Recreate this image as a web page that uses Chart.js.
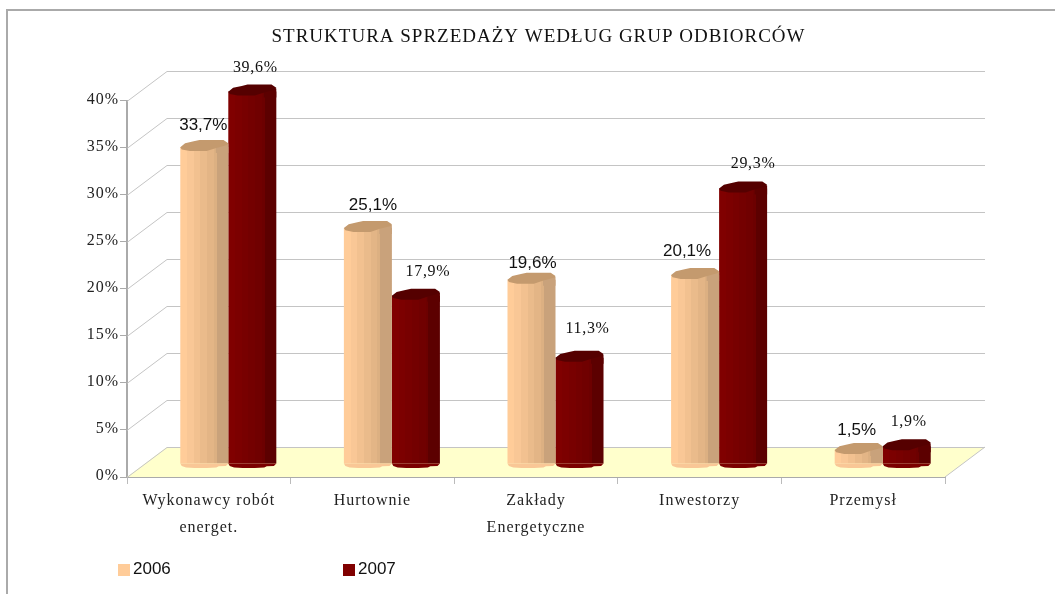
<!DOCTYPE html>
<html>
<head>
<meta charset="utf-8">
<script src="https://cdn.jsdelivr.net/npm/chart.js"></script>
<style>
  html, body { margin: 0; background: #fff; }
  #wrap { position: relative; width: 1055px; height: 594px; overflow: hidden; }
  #frame { position: absolute; left: 6px; top: 9px; width: 1100px; height: 700px; border: 2px solid #aaa; border-width: 2px 0 0 2px; }
  canvas { position: absolute; left: 0; top: 0; }
</style>
</head>
<body>
<div id="wrap">
  <div id="frame"></div>
  <canvas id="myChart" width="1055" height="594"></canvas>
</div>
<script>
const chartTitle = 'STRUKTURA SPRZEDAŻY WEDŁUG GRUP ODBIORCÓW';
const categories = [['Wykonawcy robót', 'energet.'], 'Hurtownie', ['Zakłady', 'Energetyczne'], 'Inwestorzy', 'Przemysł'];
const years = ['2006', '2007'];
const values2006 = [33.7, 25.1, 19.6, 20.1, 1.5];
const values2007 = [39.6, 17.9, 11.3, 29.3, 1.9];
const valueTicks = [0, 5, 10, 15, 20, 25, 30, 35, 40];

// depth of the fake 3D box, and how far the columns sit inside it
const depthX = 40, depthY = 30;
const barX = 19.5, barY = 13;
const groupShare = 0.587;

// the value labels were placed by hand in the original: [dx, dy] from the column top
const labelNudge = [
  [[-1, -17], [5, -18], [1, -12], [-8, -19], [-2, -15]],
  [[3, -20], [12, -20], [8, -25], [10, -20], [2, -20]]
];

const palette = [
  { stripes: ['#ffcc99', '#f9c796', '#f2c190', '#eabb8b', '#e3b586', '#dcb082', '#c9a27b'], cap: '#c49a6e', face: '#c9a27b' },
  { stripes: ['#800000', '#7c0000', '#780000', '#740000', '#700000', '#6c0000', '#5c0000'], cap: '#550000', face: '#5c0000' }
];

function stripes(ctx, i) {
  const chart = ctx.chart, sc = chart.scales.x;
  const pal = palette[ctx.datasetIndex];
  if (!sc || !chart.chartArea || ctx.dataIndex === undefined) return pal.stripes[0];
  const w = sc.width / categories.length * groupShare / 2;
  const left = sc.getPixelForValue(ctx.dataIndex) - (ctx.datasetIndex === 0 ? w : 0);
  const g = chart.ctx.createLinearGradient(left, 0, left + w, 0);
  const stops = [0, 0.14, 0.28, 0.42, 0.56, 0.7, 0.76, 1];
  pal.stripes.forEach((c, n) => {
    g.addColorStop(stops[n], c);
    g.addColorStop(stops[n + 1], c);
  });
  return g;
}

// outline of the column top, as fractions of its width / height
const capShape = [[0, 0.65], [0.1, 0.3], [0.28, 0.12], [0.4, 0], [0.9, 0], [1, 0.3], [0.98, 0.45],
  [0.75, 0.72], [0.55, 1], [0.2, 1], [0.03, 0.85]];
const footShape = [[0, 0], [0.03, 0.55], [0.12, 0.9], [0.3, 1], [0.55, 1], [0.75, 0.9], [0.8, 0.6], [0.95, 0.55], [1, 0]];

const box3d = {
  id: 'box3d',
  beforeDraw(chart) {
    chart.ctx.letterSpacing = '1px';
  },
  afterLayout(chart) {
    // title is centred on the plot frame, not the canvas
    chart.titleBlock.left = 22;
    chart.titleBlock.right = 1055;
  },
  beforeDatasetsDraw(chart) {
    const { ctx, scales: { x, y }, chartArea: a } = chart;
    ctx.save();
    // floor
    ctx.fillStyle = '#ffffcc';
    ctx.beginPath();
    ctx.moveTo(a.left, a.bottom);
    ctx.lineTo(a.right, a.bottom);
    ctx.lineTo(a.right + depthX, a.bottom - depthY);
    ctx.lineTo(a.left + depthX, a.bottom - depthY);
    ctx.closePath();
    ctx.fill();
    // walls
    ctx.strokeStyle = '#c4c4c4';
    ctx.lineWidth = 1;
    valueTicks.forEach(v => {
      const py = Math.round(y.getPixelForValue(v)) + 0.5;
      ctx.beginPath();
      ctx.moveTo(a.left, py);
      ctx.lineTo(a.left + depthX, py - depthY);
      ctx.lineTo(a.right + depthX, py - depthY);
      ctx.stroke();
    });
    ctx.beginPath();
    ctx.moveTo(a.right, a.bottom);
    ctx.lineTo(a.right + depthX, a.bottom - depthY);
    ctx.stroke();
    ctx.restore();
    // columns stand in the middle of the box depth
    ctx.save();
    ctx.translate(barX, -barY);
  },
  afterDatasetsDraw(chart) {
    const { ctx } = chart;
    chart.data.datasets.forEach((ds, d) => {
      const pal = palette[d];
      chart.getDatasetMeta(d).data.forEach((bar) => {
        const left = bar.x - bar.width / 2, w = bar.width;
        // rounded foot
        ctx.fillStyle = pal.stripes[1];
        ctx.beginPath();
        footShape.forEach(p => ctx.lineTo(left + p[0] * w, bar.base + p[1] * 4.5));
        ctx.closePath();
        ctx.fill();
        // top
        const capH = 11, capTop = bar.y - 7;
        ctx.fillStyle = pal.face;
        ctx.beginPath();
        ctx.moveTo(left + 0.74 * w, bar.y + 6);
        ctx.lineTo(left + 0.74 * w, capTop + 6);
        ctx.lineTo(left + w, capTop + 4);
        ctx.lineTo(left + w, bar.y + 6);
        ctx.closePath();
        ctx.fill();
        ctx.fillStyle = pal.cap;
        ctx.beginPath();
        capShape.forEach(p => ctx.lineTo(left + p[0] * w, capTop + p[1] * capH));
        ctx.closePath();
        ctx.fill();
      });
    });
    ctx.restore();

    // value labels: the 2006 ones are in a sans face, the 2007 ones in serif
    chart.data.datasets.forEach((ds, d) => {
      chart.getDatasetMeta(d).data.forEach((bar, i) => {
        const txt = ds.data[i].toFixed(1).replace('.', ',') + '%';
        const nudge = labelNudge[d][i];
        ctx.save();
        ctx.textAlign = 'center';
        ctx.fillStyle = '#111';
        if (d === 0) {
          ctx.letterSpacing = '0px';
          ctx.font = '17px "Liberation Sans"';
        } else {
          ctx.letterSpacing = '0.7px';
          ctx.font = '16px "Liberation Serif"';
        }
        ctx.fillText(txt, bar.x + barX + nudge[0], bar.y - barY + nudge[1]);
        ctx.restore();
      });
    });

    // legend
    const legendX = [118, 343];
    years.forEach((label, d) => {
      ctx.save();
      ctx.fillStyle = palette[d].stripes[0];
      ctx.fillRect(legendX[d], 564, 12, 12);
      ctx.fillStyle = '#111';
      ctx.letterSpacing = '0px';
      ctx.font = '17px "Liberation Sans"';
      ctx.textBaseline = 'alphabetic';
      ctx.fillText(label, legendX[d] + 15, 574);
      ctx.restore();
    });
  }
};

new Chart(document.getElementById('myChart'), {
  type: 'bar',
  data: {
    labels: categories,
    datasets: [
      { label: years[0], data: values2006, backgroundColor: stripes },
      { label: years[1], data: values2007, backgroundColor: stripes }
    ]
  },
  plugins: [box3d],
  options: {
    responsive: false,
    animation: false,
    layout: { padding: { left: 0, right: 110, top: 0, bottom: 0 } },
    categoryPercentage: groupShare,
    barPercentage: 1,
    plugins: {
      legend: { display: false },
      tooltip: { enabled: false },
      title: {
        display: true,
        text: chartTitle,
        color: '#111',
        font: { family: '"Liberation Serif"', size: 19, weight: 'normal' },
        padding: { top: 26, bottom: 52 }
      }
    },
    scales: {
      x: {
        afterFit(s) { s.height = 117; },
        border: { color: '#aaaaaa', width: 2 },
        grid: { drawOnChartArea: false, color: '#bbbbbb', tickLength: 7, offset: true },
        ticks: {
          color: '#222',
          maxRotation: 0,
          autoSkip: false,
          padding: 3,
          font: { family: '"Liberation Serif"', size: 16, lineHeight: 1.7 }
        }
      },
      y: {
        min: 0,
        max: 40,
        afterFit(s) { s.width = 127; },
        afterBuildTicks(s) { s.ticks = valueTicks.map(v => ({ value: v })); },
        border: { color: '#aaaaaa', width: 2 },
        grid: { drawOnChartArea: false, color: '#aaaaaa', tickLength: 7 },
        ticks: {
          color: '#222',
          padding: 1,
          labelOffset: -1,
          callback: v => v + '%',
          font: { family: '"Liberation Serif"', size: 16 }
        }
      }
    }
  }
});
</script>
</body>
</html>
